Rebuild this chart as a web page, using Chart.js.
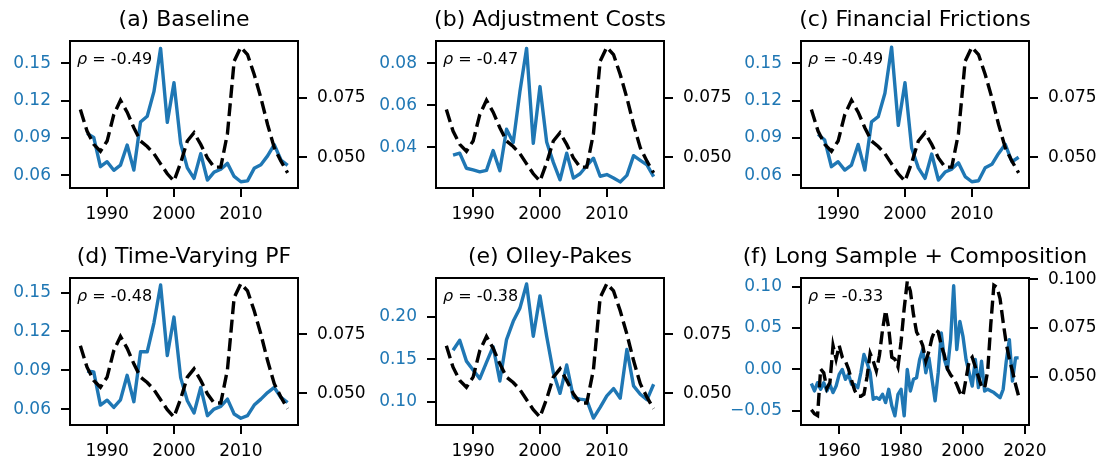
<!DOCTYPE html>
<html>
<head>
<meta charset="utf-8">
<script src="https://cdn.jsdelivr.net/npm/chart.js@4.4.1/dist/chart.umd.min.js"></script>
<style>
  html, body { margin: 0; padding: 0; background: #fff; }
  body { width: 1103px; height: 459px; position: relative; overflow: hidden; }
  canvas { position: absolute; }
</style>
</head>
<body>
<script>
// ---- data ----
const yearsMain = [1986, 1987, 1988, 1989, 1990, 1991, 1992, 1993, 1994, 1995, 1996, 1997, 1998, 1999, 2000, 2001,
  2002, 2003, 2004, 2005, 2006, 2007, 2008, 2009, 2010, 2011, 2012, 2013, 2014, 2015, 2016, 2017];

// dashed series (right axis), same in panels a-e
const macroMain = [0.0701, 0.0610, 0.0554, 0.0525, 0.0568, 0.0680, 0.0740, 0.0690, 0.0624, 0.0568, 0.0545, 0.0515,
  0.0472, 0.0430, 0.0399, 0.0476, 0.0568, 0.0603, 0.0554, 0.0497, 0.0458, 0.0458, 0.0600, 0.0905, 0.0964, 0.0933,
  0.0849, 0.0750, 0.0638, 0.0540, 0.0483, 0.0434];

const baseline = [null, 0.0937, 0.0905, 0.0669, 0.0709, 0.0640, 0.0682, 0.0843, 0.0642, 0.1028, 0.1075, 0.1272,
  0.1620, 0.1025, 0.1344, 0.0857, 0.0660, 0.0575, 0.0774, 0.0562, 0.0626, 0.0649, 0.0696, 0.0591, 0.0548, 0.0555,
  0.0656, 0.0685, 0.0756, 0.0846, 0.0723, 0.0680];

const adjCosts = [null, 0.0362, 0.0372, 0.0300, 0.0292, 0.0283, 0.0290, 0.0384, 0.0288, 0.0486, 0.0423, 0.0665,
  0.0871, 0.0419, 0.0689, 0.0425, 0.0328, 0.0245, 0.0372, 0.0253, 0.0274, 0.0312, 0.0348, 0.0262, 0.0270, 0.0254,
  0.0235, 0.0266, 0.0360, 0.0338, 0.0316, 0.0260];

const finFrictions = [null, 0.0930, 0.0883, 0.0669, 0.0709, 0.0642, 0.0682, 0.0848, 0.0642, 0.1030, 0.1071, 0.1259,
  0.1630, 0.1001, 0.1344, 0.0820, 0.0660, 0.0575, 0.0771, 0.0562, 0.0626, 0.0650, 0.0700, 0.0590, 0.0548, 0.0556,
  0.0660, 0.0688, 0.0776, 0.0849, 0.0709, 0.0745];

const timeVaryingPF = [null, 0.0894, 0.0887, 0.0631, 0.0669, 0.0613, 0.0672, 0.0861, 0.0657, 0.1043, 0.1043, 0.1265,
  0.1559, 0.1014, 0.1311, 0.0843, 0.0664, 0.0570, 0.0767, 0.0549, 0.0600, 0.0621, 0.0677, 0.0562, 0.0529, 0.0549,
  0.0631, 0.0677, 0.0728, 0.0767, 0.0690, 0.0651];

const olleyPakes = [null, 0.1609, 0.1726, 0.1480, 0.1375, 0.1274, 0.1465, 0.1650, 0.1246, 0.1734, 0.1949, 0.2105,
  0.2390, 0.1773, 0.2249, 0.1773, 0.1344, 0.1100, 0.1434, 0.1051, 0.1032, 0.1020, 0.0809, 0.0934, 0.1071, 0.1157,
  0.1043, 0.1617, 0.1188, 0.1090, 0.1024, 0.1207];

const yearsLong = [1951, 1952, 1953, 1954, 1955, 1956, 1957, 1958, 1959, 1960, 1961, 1962, 1963, 1964, 1965, 1966,
  1967, 1968, 1969, 1970, 1971, 1972, 1973, 1974, 1975, 1976, 1977, 1978, 1979, 1980, 1981, 1982, 1983, 1984, 1985,
  1986, 1987, 1988, 1989, 1990, 1991, 1992, 1993, 1994, 1995, 1996, 1997, 1998, 1999, 2000, 2001, 2002, 2003, 2004,
  2005, 2006, 2007, 2008, 2009, 2010, 2011, 2012, 2013, 2014, 2015, 2016, 2017, 2018];

const longSample = [-0.017, -0.026, -0.016, -0.024, -0.016, -0.026, -0.018, -0.028, -0.020, -0.006, 0.000, -0.012,
  -0.006, -0.018, -0.018, -0.022, -0.004, 0.018, 0.008, -0.004, -0.036, -0.034, -0.036, -0.030, -0.040, -0.024,
  -0.044, -0.056, -0.030, -0.024, -0.056, 0.000, -0.026, -0.012, -0.010, 0.012, 0.024, -0.004, 0.014, -0.012,
  -0.038, -0.004, 0.044, 0.012, 0.000, 0.036, 0.101, 0.024, 0.058, 0.040, 0.012, -0.004, -0.020, 0.012, -0.022,
  0.010, -0.026, -0.024, -0.026, -0.028, -0.031, -0.034, -0.024, 0.010, 0.036, -0.014, 0.014, 0.014];

const macroLong = [0.033, 0.031, 0.030, 0.054, 0.052, 0.044, 0.047, 0.066, 0.059, 0.066, 0.060, 0.058, 0.054, 0.048,
  0.043, 0.040, 0.040, 0.041, 0.050, 0.062, 0.058, 0.053, 0.061, 0.074, 0.084, 0.075, 0.060, 0.059, 0.055, 0.068,
  0.085, 0.099, 0.094, 0.082, 0.073, 0.070, 0.066, 0.058, 0.063, 0.070, 0.074, 0.073, 0.066, 0.061, 0.054, 0.051,
  0.049, 0.046, 0.042, 0.040, 0.049, 0.058, 0.060, 0.055, 0.050, 0.045, 0.044, 0.053, 0.077, 0.097, 0.096, 0.090,
  0.078, 0.067, 0.059, 0.053, 0.046, 0.040];

// ---- layout ----
const BLUE = '#1f77b4';
const FONT = 'DejaVu Sans';
const AX_W = 228, AX_H = 147;
const PAD_L = 70, PAD_R = 80, PAD_T = 41, PAD_B = 42;
const TICK_LEN = 9, TICK_PAD = 10;

const panels = [
  { left: 70, top: 41, title: '(a) Baseline', rho: '-0.49', xs: yearsMain, blue: baseline, dash: macroMain,
    xr: [1984.45, 2018.55], xt: [1990, 2000, 2010], yl: [0.0498, 0.1679], ylt: [0.06, 0.09, 0.12, 0.15],
    yr: [0.0370, 0.0990], yrt: [0.05, 0.075] },
  { left: 436, top: 41, title: '(b) Adjustment Costs', rho: '-0.47', xs: yearsMain, blue: adjCosts, dash: macroMain,
    xr: [1984.45, 2018.55], xt: [1990, 2000, 2010], yl: [0.0206, 0.0906], ylt: [0.04, 0.06, 0.08],
    yr: [0.0370, 0.0990], yrt: [0.05, 0.075] },
  { left: 801, top: 41, title: '(c) Financial Frictions', rho: '-0.49', xs: yearsMain, blue: finFrictions, dash: macroMain,
    xr: [1984.45, 2018.55], xt: [1990, 2000, 2010], yl: [0.0498, 0.1679], ylt: [0.06, 0.09, 0.12, 0.15],
    yr: [0.0370, 0.0990], yrt: [0.05, 0.075] },
  { left: 70, top: 278, title: '(d) Time-Varying PF', rho: '-0.48', xs: yearsMain, blue: timeVaryingPF, dash: macroMain,
    xr: [1984.45, 2018.55], xt: [1990, 2000, 2010], yl: [0.0477, 0.1613], ylt: [0.06, 0.09, 0.12, 0.15],
    yr: [0.0365, 0.0988], yrt: [0.05, 0.075] },
  { left: 436, top: 278, title: '(e) Olley-Pakes', rho: '-0.38', xs: yearsMain, blue: olleyPakes, dash: macroMain,
    xr: [1984.45, 2018.55], xt: [1990, 2000, 2010], yl: [0.0727, 0.246], ylt: [0.10, 0.15, 0.20],
    yr: [0.0365, 0.0988], yrt: [0.05, 0.075] },
  { left: 801, top: 278, title: '(f) Long Sample + Composition', rho: '-0.33', xs: yearsLong, blue: longSample, dash: macroLong,
    xr: [1947.65, 2021.35], xt: [1960, 1980, 2000, 2020], yl: [-0.0671, 0.1104], ylt: [-0.05, 0, 0.05, 0.10],
    yr: [0.0252, 0.1007], yrt: [0.05, 0.075, 0.1] },
];

function fmt(v, d) {
  const s = Math.abs(v).toFixed(d);
  return (v < -1e-9 ? '\u2212' : '') + s;
}

function points(xs, ys) {
  return xs.map((x, i) => ({ x, y: ys[i] })).filter((p) => p.y !== null);
}

const framePlugin = {
  id: 'frame',
  afterDraw(chart, args, opts) {
    const { ctx, chartArea: a } = chart;
    ctx.save();
    ctx.strokeStyle = '#000';
    ctx.lineWidth = 2;
    ctx.strokeRect(a.left, a.top, a.right - a.left, a.bottom - a.top);
    ctx.fillStyle = '#000';
    ctx.textBaseline = 'alphabetic';
    ctx.textAlign = 'center';
    ctx.font = `22px ${FONT}`;
    ctx.fillText(opts.title, (a.left + a.right) / 2, a.top - 15);
    ctx.textAlign = 'left';
    ctx.font = `italic 16px ${FONT}`;
    ctx.fillText('\u03c1', a.left + 7, a.top + 23);
    const w = ctx.measureText('\u03c1').width;
    ctx.font = `16px ${FONT}`;
    ctx.fillText(' = ' + opts.rho, a.left + 7 + w, a.top + 23);
    ctx.restore();
  },
};

function tickGrid() {
  return { display: true, drawOnChartArea: false, drawTicks: true, tickLength: TICK_LEN, color: '#000', lineWidth: 2 };
}

function makeChart(p) {
  const c = document.createElement('canvas');
  const W = PAD_L + AX_W + PAD_R, H = PAD_T + AX_H + PAD_B;
  c.width = W;
  c.height = H;
  c.style.left = (p.left - PAD_L) + 'px';
  c.style.top = (p.top - PAD_T) + 'px';
  c.style.width = W + 'px';
  c.style.height = H + 'px';
  document.body.appendChild(c);

  const tickFont = { family: FONT, size: 17 };
  return new Chart(c, {
    type: 'line',
    data: {
      datasets: [
        { data: points(p.xs, p.dash), yAxisID: 'y1', borderColor: '#000', borderWidth: 3.4, borderDash: [13, 5.5],
          pointRadius: 0, fill: false, tension: 0 },
        { data: points(p.xs, p.blue), yAxisID: 'y', borderColor: BLUE, borderWidth: 3.4, borderJoinStyle: 'round',
          pointRadius: 0, fill: false, tension: 0 },
      ],
    },
    options: {
      responsive: false,
      animation: false,
      events: [],
      layout: { padding: { top: PAD_T, left: 0, right: 0, bottom: 0 } },
      plugins: { legend: { display: false }, tooltip: { enabled: false }, frame: { title: p.title, rho: p.rho } },
      scales: {
        x: {
          type: 'linear', min: p.xr[0], max: p.xr[1],
          afterBuildTicks: (s) => { s.ticks = p.xt.map((v) => ({ value: v })); },
          afterFit: (s) => { s.height = PAD_B; },
          grid: tickGrid(), border: { display: false },
          ticks: { color: '#000', font: tickFont, padding: 7, maxRotation: 0, callback: (v) => String(v) },
        },
        y: {
          type: 'linear', position: 'left', min: p.yl[0], max: p.yl[1],
          afterBuildTicks: (s) => { s.ticks = p.ylt.map((v) => ({ value: v })); },
          afterFit: (s) => { s.width = PAD_L; },
          grid: tickGrid(), border: { display: false },
          ticks: { color: BLUE, font: tickFont, padding: TICK_PAD, callback: (v) => fmt(v, 2) },
        },
        y1: {
          type: 'linear', position: 'right', min: p.yr[0], max: p.yr[1],
          afterBuildTicks: (s) => { s.ticks = p.yrt.map((v) => ({ value: v })); },
          afterFit: (s) => { s.width = PAD_R; },
          grid: tickGrid(), border: { display: false },
          ticks: { color: '#000', font: tickFont, padding: TICK_PAD, callback: (v) => fmt(v, 3) },
        },
      },
    },
    plugins: [framePlugin],
  });
}

panels.forEach(makeChart);
</script>
</body>
</html>
